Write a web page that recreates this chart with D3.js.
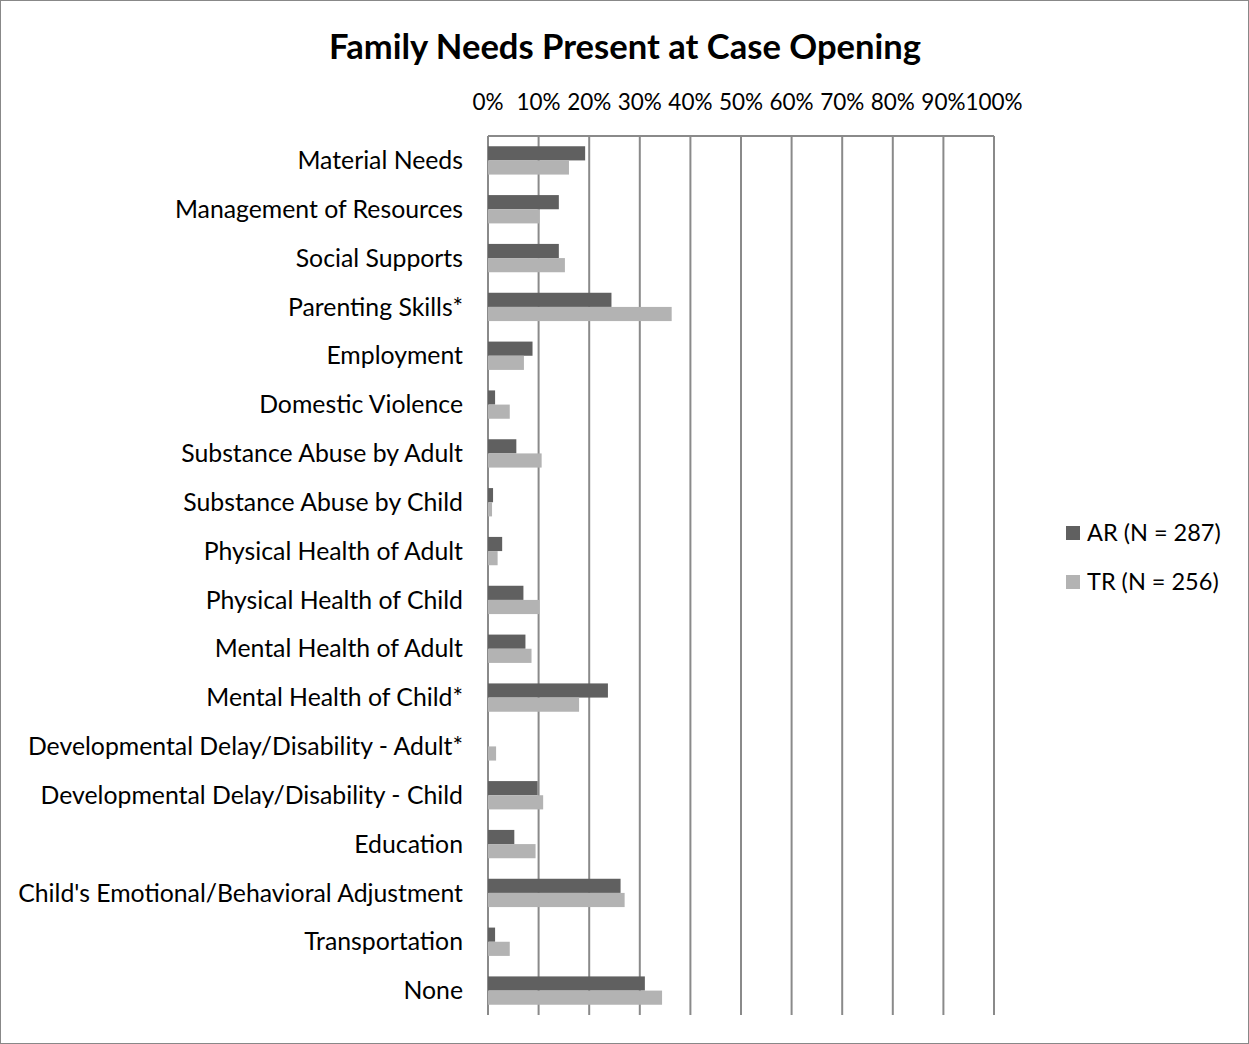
<!DOCTYPE html>
<html>
<head>
<meta charset="utf-8">
<script src="https://cdn.jsdelivr.net/npm/d3@7"></script>
<style>
  html, body { margin: 0; padding: 0; background: #fff; }
  svg { display: block; font-family: Lato, "Open Sans", sans-serif; }
</style>
</head>
<body>
<svg id="chart" width="1249" height="1044"></svg>
<script>
// Family needs identified at case opening, share of families by track
const categories = [
  "Material Needs",
  "Management of Resources",
  "Social Supports",
  "Parenting Skills*",
  "Employment",
  "Domestic Violence",
  "Substance Abuse by Adult",
  "Substance Abuse by Child",
  "Physical Health of Adult",
  "Physical Health of Child",
  "Mental Health of Adult",
  "Mental Health of Child*",
  "Developmental Delay/Disability - Adult*",
  "Developmental Delay/Disability - Child",
  "Education",
  "Child's Emotional/Behavioral Adjustment",
  "Transportation",
  "None"
];
const arValues = [0.192, 0.140, 0.140, 0.244, 0.088, 0.014, 0.056, 0.010, 0.028, 0.070, 0.074, 0.237, 0.000, 0.098, 0.052, 0.262, 0.014, 0.310];
const trValues = [0.160, 0.101, 0.152, 0.363, 0.071, 0.043, 0.106, 0.008, 0.019, 0.101, 0.086, 0.180, 0.016, 0.109, 0.094, 0.270, 0.043, 0.344];
const seriesNames = ["AR (N = 287)", "TR (N = 256)"];
const tickValues = [0, 0.1, 0.2, 0.3, 0.4, 0.5, 0.6, 0.7, 0.8, 0.9, 1.0];

const colors = ["#606060", "#b3b3b3"];
const series = [arValues, trValues];

const svg = d3.select("#chart");
const W = 1249, H = 1044;

// outer frame
svg.append("rect")
  .attr("x", 0.5).attr("y", 0.5)
  .attr("width", W - 1).attr("height", H - 1)
  .attr("fill", "#fff").attr("stroke", "#888").attr("stroke-width", 1);

const plot = { left: 488, right: 994, top: 136, bottom: 1015 };

const x = d3.scaleLinear().domain([0, 1]).range([plot.left, plot.right]);
const y = d3.scaleBand().domain(categories).range([plot.top, plot.bottom]).paddingInner(0.42).paddingOuter(0.21);
const ySeries = d3.scaleBand().domain(d3.range(series.length)).range([0, y.bandwidth()]);

// title
svg.append("text")
  .attr("x", 625).attr("y", 59)
  .attr("text-anchor", "middle")
  .attr("font-size", 34.6).attr("font-weight", "bold").attr("fill", "#000")
  .text("Family Needs Present at Case Opening");

// vertical gridlines
svg.append("g")
  .selectAll("line")
  .data(tickValues)
  .join("line")
  .attr("x1", d => x(d)).attr("x2", d => x(d))
  .attr("y1", plot.top).attr("y2", plot.bottom)
  .attr("stroke", "#8a8a8a").attr("stroke-width", 2);

// top axis line
svg.append("line")
  .attr("x1", plot.left).attr("x2", plot.right)
  .attr("y1", plot.top).attr("y2", plot.top)
  .attr("stroke", "#8a8a8a").attr("stroke-width", 2);

// tick labels along the top
const fmt = d3.format(".0%");
svg.append("g")
  .selectAll("text")
  .data(tickValues)
  .join("text")
  .attr("x", d => x(d)).attr("y", 110)
  .attr("text-anchor", "middle")
  .attr("font-size", 22.5).attr("fill", "#000")
  .text(d => fmt(d));

// bars
series.forEach((vals, si) => {
  svg.append("g")
    .selectAll("rect")
    .data(categories.map((c, i) => ({ c, v: vals[i] })))
    .join("rect")
    .attr("x", x(0))
    .attr("y", d => y(d.c) + ySeries(si))
    .attr("width", d => x(d.v) - x(0))
    .attr("height", ySeries.bandwidth())
    .attr("fill", colors[si]);
});

// category labels
svg.append("g")
  .selectAll("text")
  .data(categories)
  .join("text")
  .attr("x", 463)
  .attr("y", d => y(d) + y.bandwidth() / 2)
  .attr("dy", "0.35em")
  .attr("text-anchor", "end")
  .attr("font-size", 24.8).attr("fill", "#000")
  .text(d => d);

// legend
const legend = svg.append("g");
seriesNames.forEach((name, i) => {
  const ly = 533 + i * 49;
  legend.append("rect")
    .attr("x", 1066).attr("y", ly - 7)
    .attr("width", 14).attr("height", 14)
    .attr("fill", colors[i]);
  legend.append("text")
    .attr("x", 1087).attr("y", ly)
    .attr("dy", "0.35em")
    .attr("font-size", 23.5).attr("fill", "#000")
    .text(name);
});
</script>
</body>
</html>
